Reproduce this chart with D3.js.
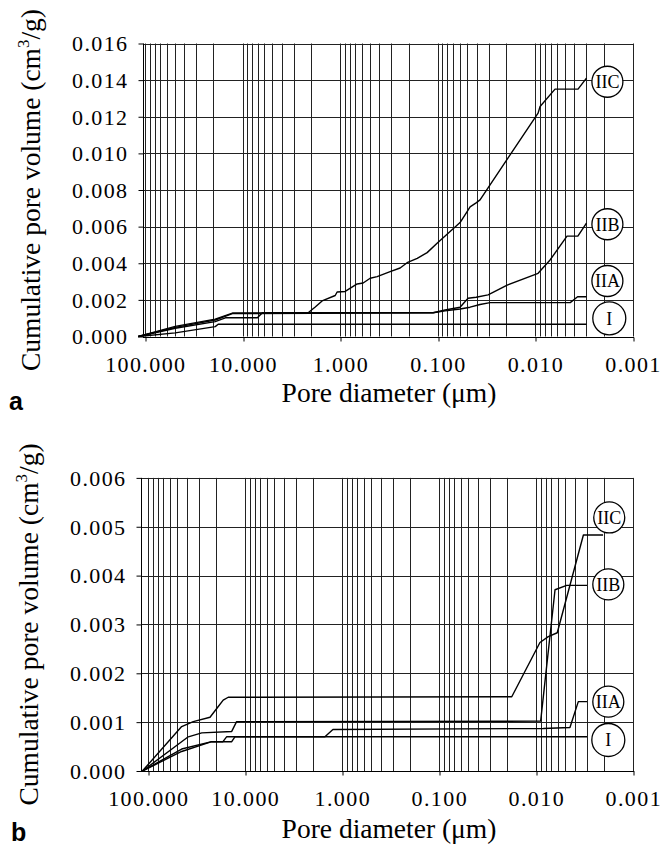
<!DOCTYPE html>
<html><head><meta charset="utf-8">
<script src="https://cdn.jsdelivr.net/npm/d3@7"></script>
<style>body{margin:0;background:#fff} svg{display:block}</style>
</head><body>
<svg id="c" width="661" height="847"></svg>
<script>
// ---------- data ----------
const xTickValues = [100, 10, 1, 0.1, 0.01, 0.001];
const xTickLabels = ["100.000", "10.000", "1.000", "0.100", "0.010", "0.001"];
const yTicksA = [0, 0.002, 0.004, 0.006, 0.008, 0.010, 0.012, 0.014, 0.016];
const yTicksB = [0, 0.001, 0.002, 0.003, 0.004, 0.005, 0.006];
const seriesNames = ["I", "IIA", "IIB", "IIC"];

// panel a : [pore diameter (µm), cumulative pore volume (cm3/g)]
const a_I = [[118,0],[49.3,0.0002],[19.2,0.00054],[17.9,0.00067],[0.003,0.00067]];
const a_IIA = [[118,0],[49.3,0.00045],[19.2,0.00081],[15.1,0.00102],[7.1,0.00102],[6.3,0.0013],
  [0.112,0.0013],[0.0844,0.0014],[0.0593,0.0015],[0.0468,0.0016],[0.037,0.00175],[0.0292,0.00185],
  [0.0044,0.00185],[0.0037,0.00217],[0.003,0.00217]];
const a_IIB = [[118,0],[49.3,0.0005],[19.2,0.0009],[12.8,0.00125],[0.112,0.0013],[0.0844,0.00145],
  [0.0593,0.0016],[0.0491,0.00209],[0.0406,0.00214],[0.0306,0.00227],[0.0195,0.00281],[0.0094,0.00345],
  [0.00708,0.00418],[0.00475,0.00548],[0.00366,0.00549],[0.003,0.00619]];
const a_IIC = [[118,0],[49.3,0.00055],[19.2,0.00095],[12.8,0.00128],[2.14,0.0013],[1.81,0.00161],
  [1.54,0.00194],[1.13,0.00224],[1.08,0.00243],[0.893,0.00246],[0.673,0.00287],[0.584,0.00292],
  [0.495,0.00318],[0.42,0.00327],[0.309,0.00354],[0.244,0.00374],[0.207,0.00403],[0.163,0.00427],
  [0.129,0.00458],[0.102,0.00509],[0.075,0.00573],[0.0593,0.00622],[0.0502,0.00682],[0.0468,0.00708],
  [0.0406,0.0073],[0.037,0.00746],[0.0094,0.0122],[0.00897,0.01256],[0.0063,0.01351],[0.00366,0.01351],
  [0.003,0.01411]];

// panel b
const b_I = [[115,0],[45.3,0.0004],[22.2,0.0006],[17,0.0006],[15.6,0.0007],[0.003,0.0007]];
const b_IIA = [[115,0],[45.3,0.00045],[22.2,0.0006],[13.8,0.0006],[12.8,0.0007],[1.51,0.0007],
  [1.25,0.00085],[0.00848,0.00087],[0.0045,0.00089],[0.00369,0.00142],[0.003,0.00142]];
const b_IIB = [[115,0],[38.7,0.0007],[28.1,0.00078],[13.8,0.00081],[12.3,0.00101],[0.00902,0.00102],
  [0.00641,0.00371],[0.00486,0.0038],[0.003,0.0038]];
const b_IIC = [[115,0],[45.3,0.00091],[34.4,0.00101],[23.1,0.0011],[19.7,0.00128],[16.9,0.00145],
  [15.0,0.00151],[0.0179,0.00152],[0.00917,0.00263],[0.00752,0.00275],[0.00608,0.00283],
  [0.00327,0.00483],[0.00205,0.00483]];

// label circle anchors [diameter, volume]
const a_labelAt = [[0.00175,0.000994],[0.00183,0.00303],[0.00183,0.00613],[0.00183,0.01391]];
const b_labelAt = [[0.00181,0.000635],[0.00181,0.00142],[0.00181,0.00382],[0.00177,0.00519]];

// ---------- drawing ----------
const svg = d3.select("#c");
const serif = "'Liberation Serif','Times New Roman',serif";

function panel(cfg) {
  const g = svg.append("g");
  const x = d3.scaleLog().domain([100, 0.001]).range([cfg.x100, cfg.x001]);
  const y = d3.scaleLinear().domain([0, cfg.yMax]).range([cfg.yBot, cfg.yTop]);
  const px = v => Math.round(v) + 0.5;

  // vertical grid (log minor ticks)
  const gridX = x.ticks();
  g.append("g").selectAll("line").data(gridX).join("line")
    .attr("x1", d => px(x(d))).attr("x2", d => px(x(d)))
    .attr("y1", cfg.yTop).attr("y2", cfg.yBot)
    .attr("stroke", "#222").attr("stroke-width", 1);
  // horizontal grid
  g.append("g").selectAll("line").data(cfg.yTicks).join("line")
    .attr("x1", cfg.xLeft).attr("x2", px(cfg.x001))
    .attr("y1", d => px(y(d))).attr("y2", d => px(y(d)))
    .attr("stroke", "#222").attr("stroke-width", 1);
  // y axis line
  g.append("line").attr("x1", px(cfg.xLeft)).attr("x2", px(cfg.xLeft))
    .attr("y1", cfg.yTop).attr("y2", cfg.yBot).attr("stroke", "#000");

  // y axis ticks & labels
  const yAxis = d3.axisLeft(y).tickValues(cfg.yTicks).tickFormat(d3.format(".3f"))
    .tickSize(5).tickPadding(10);
  const ya = g.append("g").attr("transform", `translate(${px(cfg.xLeft)},0)`).call(yAxis);
  ya.select(".domain").remove();
  ya.attr("font-family", serif);
  ya.selectAll("text").attr("font-family", serif).attr("font-size", 22)
    .attr("letter-spacing", 1.4).attr("fill", "#000").attr("dy", "0.33em");

  // x axis
  const xAxis = d3.axisBottom(x).tickValues(xTickValues)
    .tickFormat((d, i) => xTickLabels[i]).tickSize(4).tickPadding(24);
  const xa = g.append("g").attr("transform", `translate(0,${px(cfg.yBot)})`).call(xAxis);
  xa.select(".domain").remove();
  xa.attr("font-family", serif);
  xa.append("line").attr("x1", cfg.xLeft).attr("x2", cfg.x001 + 1).attr("stroke", "#000");
  xa.selectAll(".tick line").attr("transform", d => `translate(${px(x(d)) - x(d)},0)`);
  xa.selectAll("text").attr("font-family", serif).attr("font-size", 22)
    .attr("letter-spacing", 1.4).attr("fill", "#000").attr("dy", "0.3em");

  // curves
  const line = d3.line().x(d => x(d[0])).y(d => y(d[1]));
  g.append("g").selectAll("path").data(cfg.series).join("path")
    .attr("d", line).attr("fill", "none").attr("stroke", "#000").attr("stroke-width", 1.4)
    .attr("stroke-linejoin", "round");

  // labels
  const lab = g.append("g").selectAll("g").data(seriesNames).join("g")
    .attr("transform", (d, i) => `translate(${x(cfg.labels[i][0])},${y(cfg.labels[i][1])})`);
  lab.append("circle").attr("r", (d) => d === "I" ? 16.5 : 15.5)
    .attr("fill", "#fff").attr("stroke", "#000").attr("stroke-width", 1.3);
  lab.append("text").text(d => d).attr("text-anchor", "middle").attr("dy", "0.35em")
    .attr("font-family", serif).attr("font-size", 18).attr("fill", "#000");

  // titles
  g.append("text").text("Pore diameter (\u03bcm)")
    .attr("x", cfg.xTitleX).attr("y", cfg.xTitleY).attr("text-anchor", "middle")
    .attr("font-family", serif).attr("font-size", 27.5).attr("fill", "#000");
  const yt = g.append("text").attr("text-anchor", "middle")
    .attr("transform", `translate(${cfg.yTitleX},${(cfg.yTop + cfg.yBot) / 2}) rotate(-90)`)
    .attr("font-family", serif).attr("font-size", 27.5).attr("fill", "#000");
  yt.append("tspan").text("Cumulative pore volume (cm");
  yt.append("tspan").text("3").attr("font-size", 17).attr("dy", -11);
  yt.append("tspan").text("/g)").attr("dy", 11);

  g.append("text").text(cfg.letter).attr("x", cfg.letterX).attr("y", cfg.letterY)
    .attr("font-family", "'Liberation Sans',Arial,sans-serif").attr("font-weight", "bold")
    .attr("font-size", 25).attr("fill", "#000");
}

panel({
  xLeft: 143, x100: 145.3, x001: 633, yTop: 43.5, yBot: 336.5, yMax: 0.016,
  yTicks: yTicksA, series: [a_I, a_IIA, a_IIB, a_IIC], labels: a_labelAt,
  xTitleX: 389, xTitleY: 402, yTitleX: 40, letter: "a", letterX: 9, letterY: 410
});
panel({
  xLeft: 141, x100: 148.3, x001: 633.3, yTop: 477.9, yBot: 771, yMax: 0.006,
  yTicks: yTicksB, series: [b_I, b_IIA, b_IIB, b_IIC], labels: b_labelAt,
  xTitleX: 389, xTitleY: 838, yTitleX: 38, letter: "b", letterX: 11, letterY: 841
});
</script>
</body></html>
